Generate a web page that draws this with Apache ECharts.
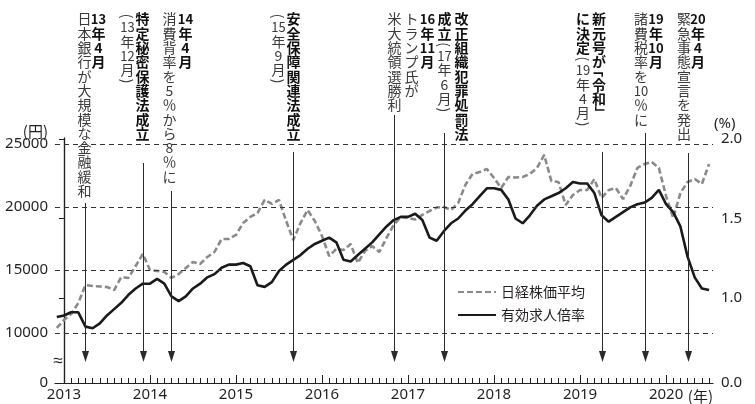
<!DOCTYPE html>
<html><head><meta charset="utf-8">
<script src="https://cdn.jsdelivr.net/npm/echarts@6/dist/echarts.min.js"></script>
<style>html,body{margin:0;padding:0;background:#fff}#c{width:755px;height:404px}</style>
</head><body><div id="c"></div>
<script>
// month index: 0 = 2013-01 ; series start at 2012-12 (index -1)
const startMonth = -1;
const nikkei = [
  10400,
  11030, 11510, 12380, 13810, 13730, 13690, 13650, 13410, 14440, 14370, 15320, 16270,
  15000, 14920, 14840, 14370, 14680, 15160, 15640, 15480, 16030, 16430, 17460, 17460,
  17780, 18730, 19210, 19520, 20560, 20240, 20560, 18890, 17380, 18730, 19760, 18890,
  17700, 16110, 16670, 16590, 17060, 15560, 16510, 16900, 16430, 17540, 18570, 19210,
  19130, 19010, 19370, 19680, 19960, 20000, 19760, 20320, 21750, 22620, 22780, 23020,
  22300, 21510, 22380, 22340, 22380, 22620, 23100, 24130, 22060, 21980, 20160, 20950,
  21350, 21350, 22220, 20710, 21350, 21510, 20630, 21670, 23100, 23410, 23570, 23100,
  20870, 19130, 21110, 21980, 22220, 21830, 23410
];
const ratio = [
  0.88,
  0.89, 0.91, 0.91, 0.82, 0.81, 0.84, 0.89, 0.93, 0.97, 1.02, 1.06, 1.09,
  1.09, 1.12, 1.09, 1.01, 0.98, 1.01, 1.06, 1.09, 1.13, 1.15, 1.19, 1.21,
  1.21, 1.22, 1.20, 1.08, 1.07, 1.10, 1.17, 1.21, 1.24, 1.27, 1.31, 1.34,
  1.36, 1.38, 1.35, 1.24, 1.23, 1.27, 1.31, 1.35, 1.40, 1.45, 1.49, 1.51,
  1.51, 1.53, 1.49, 1.38, 1.36, 1.42, 1.47, 1.50, 1.55, 1.59, 1.64, 1.69,
  1.69, 1.68, 1.62, 1.50, 1.47, 1.52, 1.58, 1.62, 1.64, 1.66, 1.69, 1.73,
  1.72, 1.72, 1.66, 1.52, 1.48, 1.51, 1.54, 1.57, 1.59, 1.60, 1.63, 1.68,
  1.59, 1.54, 1.45, 1.26, 1.13, 1.06, 1.05
];
const seriesNames = ['日経株価平均', '有効求人倍率'];
const yearTicks = [0, 12, 24, 36, 48, 60, 72, 84];
const yearLabels = ['2013', '2014', '2015', '2016', '2017', '2018', '2019', '2020'];
const leftTicks = [10000, 15000, 20000, 25000];
const rightTicks = [1.0, 1.5, 2.0];
const leftMin = 6032, leftMax = 25476;
const rightMin = 0.4654, rightMax = 2.0063;
const xMin = -1.25, xMax = 90.55;
const leftUnit = '(円)', rightUnit = '(%)', xUnit = '(年)';

// events: month index and vertical text columns (right-most column first)
const eventMonths = [3, 11, 15, 32, 46, 53, 75, 81, 87];
const eventColumns = [
  [[['b', '13年4月']], [['r', '日本銀行が大規模な金融緩和']]],
  [[['b', '特定秘密保護法成立']], [['r', '(13年12月)']]],
  [[['b', '14年4月']], [['r', '消費背率を5％から8％に']]],
  [[['b', '安全保障関連法成立']], [['r', '(15年9月)']]],
  [[['b', '16年11月']], [['r', 'トランプ氏が']], [['r', '米大統領選勝利']]],
  [[['b', '改正組織犯罪処罰法']], [['b', '成立'], ['r', '(17年6月)']]],
  [[['b', '新元号が「令和」']], [['b', 'に決定'], ['r', '(19年4月)']]],
  [[['b', '19年10月']], [['r', '諸費税率を10％に']]],
  [[['b', '20年4月']], [['r', '緊急事態宣言を発出']]]
];
// layout only (pixel offsets of text columns relative to arrow, arrow top)
const eventLayout = [
  {cols: [13, -1], top: 203},
  {cols: [-1, -16], top: 163},
  {cols: [14, -2], top: 191},
  {cols: [0, -15], top: 152},
  {cols: [33, 17, 0], top: 115},
  {cols: [17, 0], top: 133},
  {cols: [-3.5, -19.5], top: 152},
  {cols: [10.5, -4.5], top: 133},
  {cols: [9.5, -4.5], top: 153}
];
const arrowTipValue = 7698;
const textTop = 12;
const CJK = '"Noto Sans CJK JP", sans-serif';
const NUM = '"Noto Sans", sans-serif';
const INK = '#231f20';

const monthTicks = [];
for (let m = 0; m <= 90; m++) monthTicks.push(m);

function tokenize(str) {
  const out = [];
  let i = 0;
  while (i < str.length) {
    const c = str[i];
    if (/[0-9]/.test(c)) {
      let j = i;
      while (j < str.length && /[0-9]/.test(str[j])) j++;
      out.push({t: str.slice(i, j), kind: 'num'});
      i = j;
    } else {
      out.push({t: c, kind: '()「」'.indexOf(c) >= 0 ? 'br' : 'ch'});
      i++;
    }
  }
  return out;
}

function renderEvent(params, api) {
  const i = params.dataIndex;
  const tip = api.coord([api.value(0), api.value(1)]);
  const ax = Math.round(tip[0]) + 0.5;
  const lay = eventLayout[i];
  const children = [];
  children.push({type: 'line', shape: {x1: ax, y1: lay.top, x2: ax, y2: tip[1] - 8},
    style: {stroke: '#2a2a2a', lineWidth: 1}});
  children.push({type: 'polygon', shape: {points: [[ax - 3.5, tip[1] - 11], [ax + 3.5, tip[1] - 11], [ax, tip[1]]]},
    style: {fill: '#2a2a2a'}});
  eventColumns[i].forEach((col, ci) => {
    const cx = ax + lay.cols[ci];
    let y = textTop;
    col.forEach(([w, str]) => {
      tokenize(str).forEach(tok => {
        const h = tok.kind === 'br' ? 8 : 14.3;
        let dx = 0, dy = 0;
        if (tok.t === '「') { dx = -3; dy = -3; }
        if (tok.t === '」') { dx = 3; dy = 3; }
        const el = {
          type: 'text', x: cx + dx, y: y + h / 2 + dy,
          style: {
            text: tok.t,
            fill: w === 'b' ? '#111' : '#3a3a3a',
            fontSize: tok.kind === 'num' && tok.t.length > 1 ? 13 : 14,
            fontWeight: w === 'b' ? 'bold' : 'normal',
            fontFamily: CJK,
            align: 'center', verticalAlign: 'middle'
          }
        };
        if (tok.kind === 'br') el.rotation = -Math.PI / 2;
        children.push(el);
        y += h;
      });
    });
  });
  return {type: 'group', children};
}

const chart = echarts.init(document.getElementById('c'));
chart.setOption({
  animation: false,
  backgroundColor: '#fff',
  grid: {left: 55, right: 42, top: 138, bottom: 21, containLabel: false},
  legend: {
    data: seriesNames,
    orient: 'vertical', left: 452, top: 280,
    itemWidth: 38, itemHeight: 14, itemGap: 9,
    itemStyle: {opacity: 0},
    textStyle: {fontSize: 14, color: INK, fontFamily: CJK}
  },
  xAxis: [{
    type: 'value', min: xMin, max: xMax,
    axisLine: {show: true, lineStyle: {color: INK, width: 1.2}},
    axisTick: {show: true, inside: true, length: 5, customValues: monthTicks, lineStyle: {color: INK, width: 1}},
    axisLabel: {customValues: yearTicks, formatter: v => yearLabels[yearTicks.indexOf(v)] || '',
      fontSize: 15, color: INK, margin: 4, fontFamily: NUM},
    splitLine: {show: false}
  }, {
    type: 'value', min: xMin, max: xMax, position: 'bottom',
    axisLine: {show: false},
    axisTick: {show: true, inside: true, length: 8, customValues: yearTicks, lineStyle: {color: INK, width: 1}},
    axisLabel: {show: false}, splitLine: {show: false}
  }],
  yAxis: [{
    type: 'value', min: leftMin, max: leftMax, position: 'left',
    axisLine: {show: true, lineStyle: {color: INK, width: 1.2}},
    axisTick: {show: true, inside: true, length: 5, customValues: leftTicks, lineStyle: {color: INK}},
    axisLabel: {customValues: [leftMin].concat(leftTicks), formatter: v => v < 9000 ? '0' : String(v),
      fontSize: 15, color: INK, margin: 7, fontFamily: NUM},
    splitLine: {show: false}
  }, {
    type: 'value', min: rightMin, max: rightMax, position: 'right',
    axisLine: {show: true, lineStyle: {color: INK, width: 1.2}},
    axisTick: {show: true, inside: true, length: 5, customValues: rightTicks, lineStyle: {color: INK}},
    axisLabel: {customValues: [rightMin].concat(rightTicks), formatter: v => v < 0.9 ? '0.0' : v.toFixed(1),
      fontSize: 15, color: INK, margin: 8, fontFamily: NUM},
    splitLine: {show: false}
  }],
  series: [{
    name: seriesNames[0], type: 'line', xAxisIndex: 0, yAxisIndex: 0,
    data: nikkei.map((v, i) => [startMonth + i, v]),
    symbol: 'none', z: 2,
    lineStyle: {color: '#8a8a8a', width: 2.6, type: [6, 3]},
    itemStyle: {color: '#8a8a8a'},
    markLine: {
      silent: true, symbol: ['none', 'none'], label: {show: false},
      lineStyle: {color: '#333', width: 1, type: [5, 4]},
      data: leftTicks.map(v => ({yAxis: v}))
    }
  }, {
    name: seriesNames[1], type: 'line', xAxisIndex: 0, yAxisIndex: 1,
    data: ratio.map((v, i) => [startMonth + i, v]),
    symbol: 'none', z: 3,
    lineStyle: {color: '#1a1a1a', width: 2.6},
    itemStyle: {color: '#1a1a1a'}
  }, {
    type: 'custom', xAxisIndex: 0, yAxisIndex: 0, clip: false, silent: true, z: 4,
    renderItem: renderEvent,
    data: eventMonths.map(m => [m, arrowTipValue])
  }]
});

const lx = chart.convertToPixel({xAxisIndex: 0}, xMin);
const rx = chart.convertToPixel({xAxisIndex: 0}, xMax);
const ty = chart.convertToPixel({yAxisIndex: 0}, leftMax);
const bY = chart.convertToPixel({yAxisIndex: 0}, leftMin);
const brk = chart.convertToPixel({yAxisIndex: 0}, 7750);
chart.setOption({graphic: [{
  type: 'text', x: lx + 3, y: brk, z: 10,
  style: {text: '≈', fontSize: 17, fill: INK, fontFamily: NUM, align: 'center', verticalAlign: 'middle'}
}, {
  type: 'text', x: lx - 7, y: ty - 7, z: 10,
  style: {text: leftUnit, fontSize: 15, fill: INK, fontFamily: CJK, align: 'right', verticalAlign: 'middle'}
}, {
  type: 'text', x: rx + 1, y: ty - 14, z: 10,
  style: {text: rightUnit, fontSize: 15, fill: INK, fontFamily: NUM, align: 'left', verticalAlign: 'middle'}
}, {
  type: 'text', x: rx, y: bY + 13, z: 10,
  style: {text: xUnit, fontSize: 15, fill: INK, fontFamily: CJK, align: 'right', verticalAlign: 'middle'}
}]});
</script>
</body></html>
